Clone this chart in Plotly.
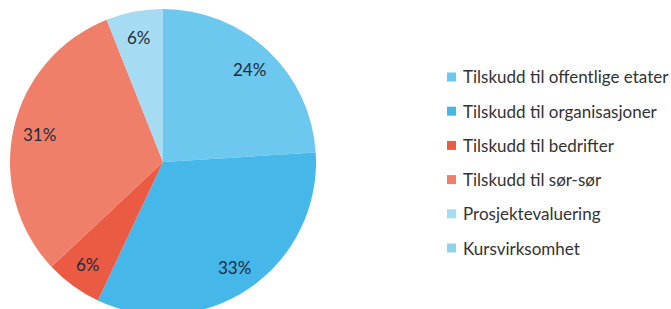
import math
import plotly.graph_objects as go

labels = ["Tilskudd til offentlige etater", "Tilskudd til organisasjoner", "Tilskudd til bedrifter",
          "Tilskudd til sør-sør", "Prosjektevaluering", "Kursvirksomhet"]
values = [24, 33, 6, 31, 6, 0]
colors = ["#6CC8EE", "#45B7E9", "#EB5A43", "#F07F6A", "#A5DBF3", "#8ED2EE"]

W, H = 671, 318
CX, CY, R = 163, 162, 153  # pie centre / radius in px (from top-left)

fig = go.Figure(go.Pie(
    labels=labels, values=values, sort=False, direction="clockwise", rotation=0,
    marker=dict(colors=colors, line=dict(width=0)),
    textinfo="none",
    domain=dict(x=[(CX - R) / W, (CX + R) / W], y=[(H - CY - R) / H, (H - CY + R) / H]),
    showlegend=False, hoverinfo="label+percent",
))

annots, shapes = [], []

# percentage labels placed at slice mid-angles (derived from the values)
total = sum(values)
cum = 0
for v in values:
    if v > 0:
        mid = (cum + v / 2) / total * 2 * math.pi
        rr = 0.83 * R
        px = CX + rr * math.sin(mid)
        py = CY - rr * math.cos(mid)
        annots.append(dict(text=f"{round(100 * v / total)}%", xref="paper", yref="paper",
                           x=px / W, y=(H - py) / H, xanchor="center", yanchor="middle",
                           showarrow=False, font=dict(family="Lato", size=17, color="#1E2B3A")))
    cum += v

legend_x, legend_y0, legend_dy = 447, 77, 34.2
for i, (lab, col) in enumerate(zip(labels, colors)):
    yc = legend_y0 + i * legend_dy
    shapes.append(dict(type="rect", xref="paper", yref="paper",
                       x0=legend_x / W, x1=(legend_x + 9) / W,
                       y0=(H - yc - 4.5) / H, y1=(H - yc + 4.5) / H,
                       fillcolor=col, line=dict(width=0)))
    annots.append(dict(text=lab, xref="paper", yref="paper", x=(legend_x + 14) / W, y=(H - yc) / H,
                       xanchor="left", yanchor="middle", showarrow=False,
                       font=dict(family="Lato", size=17, color="#333333")))

fig.update_layout(width=W, height=H, margin=dict(l=0, r=0, t=0, b=0),
                  paper_bgcolor="white", plot_bgcolor="white",
                  shapes=shapes, annotations=annots)

fig.write_html("out.html", config={"displayModeBar": False},
               post_script="document.documentElement.style.overflow='hidden';document.body.style.overflow='hidden';document.body.style.margin='0';")
